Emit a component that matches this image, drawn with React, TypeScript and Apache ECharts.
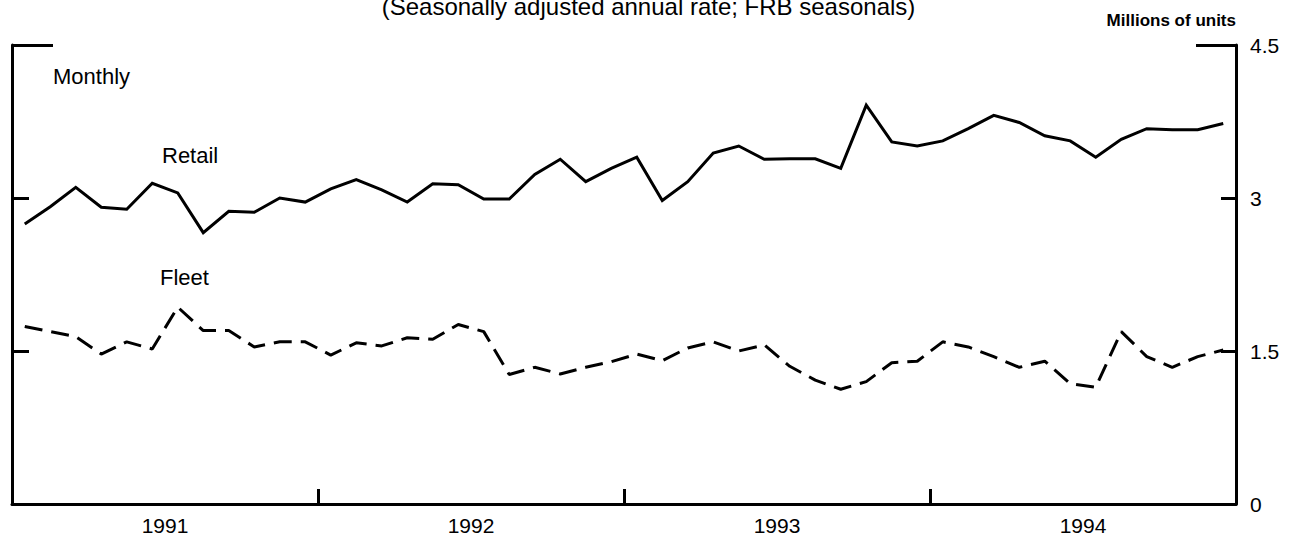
import React, { useEffect, useRef } from "react";
import * as echarts from "echarts";

const years = ["1991", "1992", "1993", "1994"];
const yearBoundaries = [12, 24, 36];
const yearMidpoints = [6, 18, 30, 42];
const yTickValues = [1.5, 3];
const yLabelValues = [0, 1.5, 3, 4.5];

// Monthly, Jan 1991 - Dec 1994, millions of units (SAAR)
const retail = [
  2.745, 2.915, 3.105, 2.91, 2.89, 3.144, 3.05, 2.66, 2.87, 2.86, 3.0, 2.96,
  3.09, 3.18, 3.08, 2.96, 3.14, 3.13, 2.99, 2.99, 3.23, 3.38, 3.16, 3.29,
  3.4, 2.975, 3.16, 3.44, 3.51, 3.38, 3.385, 3.385, 3.29, 3.91, 3.55, 3.51,
  3.56, 3.68, 3.81, 3.74, 3.61, 3.56, 3.4, 3.575, 3.68, 3.67, 3.67, 3.73,
];
const fleet = [
  1.74, 1.69, 1.64, 1.47, 1.59, 1.52, 1.93, 1.7, 1.7, 1.54, 1.59, 1.59,
  1.46, 1.58, 1.55, 1.63, 1.615, 1.76, 1.69, 1.27, 1.34, 1.275, 1.34, 1.395,
  1.47, 1.405, 1.53, 1.59, 1.5, 1.56, 1.35, 1.215, 1.125, 1.2, 1.385, 1.4,
  1.59, 1.54, 1.445, 1.34, 1.4, 1.18, 1.145, 1.69, 1.445, 1.34, 1.445, 1.51,
];

const FONT = "'Liberation Sans', Arial, Helvetica, sans-serif";

export default function App() {
  const ref = useRef<HTMLDivElement>(null);
  useEffect(() => {
    if (!ref.current) return;
    const chart = echarts.init(ref.current, undefined, { renderer: "svg" });
    const toPoints = (arr: number[]) => arr.map((v, i) => [i + 0.5, v]);
    const axisLine = { show: true, lineStyle: { color: "#000", width: 3 } };
    const baseY = {
      type: "value" as const,
      min: 0,
      max: 4.5,
      splitLine: { show: false },
    };
    chart.setOption({
      animation: false,
      backgroundColor: "#fff",
      textStyle: { fontFamily: FONT, color: "#000" },
      grid: { left: 12, right: 61, top: 45, bottom: 32, containLabel: false },
      xAxis: {
        type: "value",
        min: 0,
        max: 48,
        splitLine: { show: false },
        axisLine,
        axisTick: {
          show: true,
          customValues: yearBoundaries,
          inside: true,
          length: 15,
          lineStyle: { color: "#000", width: 3 },
        },
        axisLabel: {
          show: true,
          customValues: yearMidpoints,
          formatter: (v: number) => years[Math.floor(v / 12)] ?? "",
          fontSize: 21,
          color: "#000",
          fontFamily: FONT,
          margin: 11,
        },
      },
      yAxis: [
        {
          ...baseY,
          position: "left",
          axisLine,
          axisTick: {
            show: true,
            customValues: yTickValues,
            inside: true,
            length: 17,
            lineStyle: { color: "#000", width: 3 },
          },
          axisLabel: { show: false },
        },
        {
          ...baseY,
          position: "right",
          axisLine,
          axisTick: {
            show: true,
            customValues: yTickValues,
            inside: true,
            length: 15,
            lineStyle: { color: "#000", width: 3 },
          },
          axisLabel: {
            show: true,
            customValues: yLabelValues,
            formatter: (v: number) => String(v),
            fontSize: 21,
            color: "#000",
            fontFamily: FONT,
            margin: 14,
          },
        },
        {
          ...baseY,
          position: "left",
          axisLine: { show: false },
          axisTick: {
            show: true,
            customValues: [4.5],
            inside: true,
            length: 41,
            lineStyle: { color: "#000", width: 3 },
          },
          axisLabel: { show: false },
        },
        {
          ...baseY,
          position: "right",
          axisLine: { show: false },
          axisTick: {
            show: true,
            customValues: [4.5],
            inside: true,
            length: 40,
            lineStyle: { color: "#000", width: 3 },
          },
          axisLabel: { show: false },
        },
      ],
      graphic: [
        {
          type: "text",
          left: "center",
          top: -6,
          style: {
            text: "(Seasonally adjusted annual rate; FRB seasonals)",
            font: `24px ${FONT}`,
            fill: "#000",
          },
        },
        {
          type: "text",
          x: 1236,
          y: 20,
          style: {
            text: "Millions of units",
            font: `bold 17px ${FONT}`,
            fill: "#000",
            textAlign: "right",
            textVerticalAlign: "middle",
          },
        },
        {
          type: "text",
          x: 53,
          y: 76,
          style: {
            text: "Monthly",
            font: `22px ${FONT}`,
            fill: "#000",
            textVerticalAlign: "middle",
          },
        },
        {
          type: "text",
          x: 162,
          y: 155,
          style: {
            text: "Retail",
            font: `22px ${FONT}`,
            fill: "#000",
            textVerticalAlign: "middle",
          },
        },
        {
          type: "text",
          x: 160,
          y: 277,
          style: {
            text: "Fleet",
            font: `22px ${FONT}`,
            fill: "#000",
            textVerticalAlign: "middle",
          },
        },
      ],
      series: [
        {
          name: "Retail",
          type: "line",
          yAxisIndex: 0,
          data: toPoints(retail),
          showSymbol: false,
          symbol: "none",
          lineStyle: { color: "#000", width: 3, join: "miter" },
        },
        {
          name: "Fleet",
          type: "line",
          yAxisIndex: 0,
          data: toPoints(fleet),
          showSymbol: false,
          symbol: "none",
          lineStyle: { color: "#000", width: 3, type: [18, 9] },
        },
      ],
    });
    return () => chart.dispose();
  }, []);
  return (
    <div
      ref={ref}
      style={{ position: "fixed", left: 0, top: 0, width: 1297, height: 536, background: "#fff" }}
    />
  );
}
